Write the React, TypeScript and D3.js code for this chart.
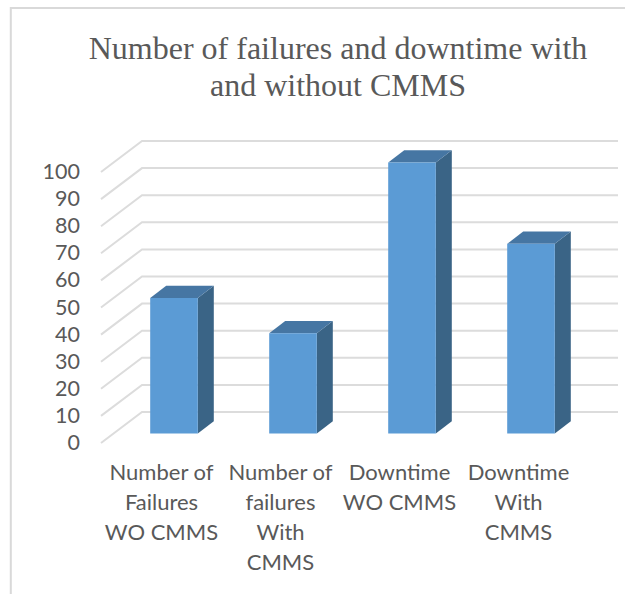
import * as d3 from "d3";

const categories = ["Failures WO", "Failures With", "Downtime WO", "Downtime With"];
const categoryLabels = [
  ["Number of", "Failures", "WO CMMS"],
  ["Number of", "failures", "With", "CMMS"],
  ["Downtime", "WO CMMS"],
  ["Downtime", "With", "CMMS"],
];
const values = [50, 37, 100, 70];
const yTicks = [0, 10, 20, 30, 40, 50, 60, 70, 80, 90, 100];
const titleLines = ["Number of failures and downtime with", "and without CMMS"];

export default function App() {
  const width = 625;
  const height = 594;

  // front plane of the fake 3D box
  const floorY = 443;
  const topY = 172;
  const wallDx = 41;
  const wallDy = 31;
  const frontX = 101;
  const backRight = 618;

  // bars sit a little behind the front plane
  const barDy = 9.5;
  const depthX = 16;
  const depthY = 12.3;

  const yScale = d3.scaleLinear().domain([0, 100]).range([floorY, topY]);
  const xScale = d3
    .scaleBand()
    .domain(categories)
    .range([114.5, 590.5])
    .paddingInner(0.6)
    .paddingOuter(0.3);

  const poly = d3.line();

  return (
    <svg
      width={width}
      height={height}
      viewBox={`0 0 ${width} ${height}`}
      style={{ position: "absolute", left: 0, top: 0, background: "#fff" }}
    >
      {/* Chart frame */}
      <path d="M10.8 594V8H625" fill="none" stroke="#d9d9d9" strokeWidth={2} />

      {/* Title */}
      <text
        textAnchor="middle"
        fontFamily="'Liberation Serif', serif"
        fontSize={32}
        fill="#595959"
      >
        {titleLines.map((line, i) => (
          <tspan key={line} x={338} y={59 + i * 36.5}>
            {line}
          </tspan>
        ))}
      </text>

      {/* Gridlines, wall and floor */}
      {yTicks.map((t) => (
        <path
          key={t}
          d={
            poly([
              [frontX, yScale(t)],
              [frontX + wallDx, yScale(t) - wallDy],
              [backRight, yScale(t) - wallDy],
            ]) ?? ""
          }
          fill="none"
          stroke="#dcdcdc"
          strokeWidth={2}
        />
      ))}

      {/* Y axis labels */}
      {yTicks.map((t) => (
        <text
          key={`label-${t}`}
          x={80}
          y={yScale(t) - 1}
          textAnchor="end"
          dominantBaseline="central"
          fontFamily="Lato, sans-serif"
          fontSize={21.5}
          fill="#595959"
        >
          {t}
        </text>
      ))}

      {/* Bars */}
      {categories.map((c, i) => {
        const x0 = xScale(c) ?? 0;
        const x1 = x0 + xScale.bandwidth();
        const y0 = yScale(0) - barDy;
        const y1 = yScale(values[i]) - barDy;
        return (
          <g key={c}>
            <path
              d={
                poly([
                  [x1, y0],
                  [x1 + depthX, y0 - depthY],
                  [x1 + depthX, y1 - depthY],
                  [x1, y1],
                ]) + "Z"
              }
              fill="#3a6486"
            />
            <path
              d={
                poly([
                  [x0, y1],
                  [x0 + depthX, y1 - depthY],
                  [x1 + depthX, y1 - depthY],
                  [x1, y1],
                ]) + "Z"
              }
              fill="#4676a3"
            />
            <rect x={x0} y={y1} width={x1 - x0} height={y0 - y1} fill="#5b9bd5" />
          </g>
        );
      })}

      {/* Category labels */}
      {categories.map((c, i) => (
        <text
          key={`cat-${c}`}
          textAnchor="middle"
          fontFamily="Lato, sans-serif"
          fontSize={22}
          fill="#595959"
        >
          {categoryLabels[i].map((line, j) => (
            <tspan
              key={j}
              x={(xScale(c) ?? 0) + xScale.bandwidth() / 2 - 12.5}
              y={480 + j * 30}
            >
              {line}
            </tspan>
          ))}
        </text>
      ))}
    </svg>
  );
}
